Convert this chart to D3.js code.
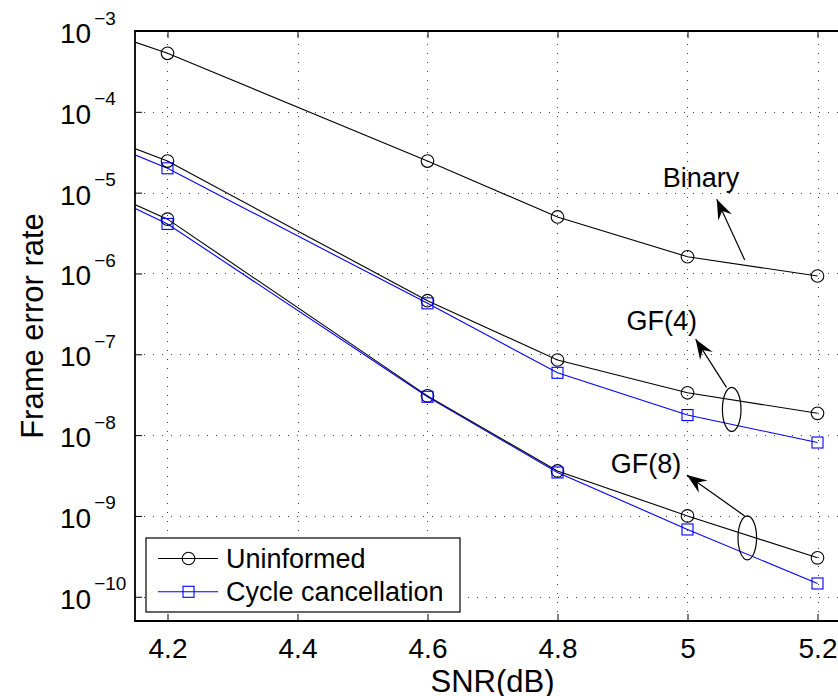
<!DOCTYPE html>
<html>
<head>
<meta charset="utf-8">
<script src="https://cdn.jsdelivr.net/npm/d3@7"></script>
<style>
  html, body { margin: 0; padding: 0; background: #fff; }
  svg { display: block; font-family: "Liberation Sans", Arial, Helvetica, sans-serif; }
</style>
</head>
<body>
<svg id="chart" width="838" height="696"></svg>
<script>
// SNR points (4.1 lies left of the visible window and only shapes the line entering from the edge)
const snr = [4.1, 4.2, 4.6, 4.8, 5.0, 5.2];

// Frame error rates per code / decoder
const binaryUninformed = [1.0e-3, 5.3e-4, 2.46e-5, 5.0e-6, 1.61e-6, 9.3e-7];
const gf4Uninformed    = [5.0e-5, 2.46e-5, 4.6e-7, 8.5e-8, 3.34e-8, 1.86e-8];
const gf4Cycle         = [4.3e-5, 2.0e-5, 4.27e-7, 5.9e-8, 1.77e-8, 8.1e-9];
const gf8Uninformed    = [1.07e-5, 4.7e-6, 3.06e-8, 3.6e-9, 1.0e-9, 3.03e-10];
const gf8Cycle         = [1.0e-5, 4.1e-6, 2.98e-8, 3.45e-9, 6.8e-10, 1.46e-10];

// Axis ticks
const xTicks = [4.2, 4.4, 4.6, 4.8, 5.0, 5.2];
const xTickLabels = ["4.2", "4.4", "4.6", "4.8", "5", "5.2"];
const yExponents = [-3, -4, -5, -6, -7, -8, -9, -10];

// Legend entries
const legendLabels = ["Uninformed", "Cycle cancellation"];

// Annotation texts, arrows and ellipses (data coordinates)
const annoLabels = ["Binary", "GF(4)", "GF(8)"];
const annoTextAt = [[4.962, 1.18e-5], [4.906, 2.0e-7], [4.882, 3.4e-9]];
const annoTip    = [[5.045, 8.3e-6], [5.0125, 1.54e-7], [4.999, 3.2e-9]];
const annoTail   = [[5.088, 1.47e-6], [5.060, 3.9e-8], [5.088, 1.0e-9]];
const annoEllipse = [null, [5.068, 2.08e-8], [5.092, 5.36e-10]];

const BLUE = "#0000ff";
const svg = d3.select("#chart");

const plot = { left: 135, right: 850, top: 31, bottom: 621 };
const x = d3.scaleLinear().domain([4.15, 5.25]).range([plot.left, plot.right]);
const y = d3.scaleLog().domain([Math.pow(10, -10.3), 1e-3]).range([plot.bottom, plot.top]);

svg.append("defs").append("clipPath").attr("id", "plot-clip")
  .append("rect")
  .attr("x", plot.left).attr("y", plot.top)
  .attr("width", plot.right - plot.left).attr("height", plot.bottom - plot.top);

// Dotted grid
const grid = svg.append("g").attr("stroke", "#3a3a3a").attr("stroke-width", 1)
  .attr("stroke-dasharray", "1,8").attr("fill", "none");
grid.selectAll("line.v").data(xTicks).join("line")
  .attr("x1", d => Math.round(x(d)) + 0.5).attr("x2", d => Math.round(x(d)) + 0.5)
  .attr("y1", plot.bottom).attr("y2", plot.top);
grid.selectAll("line.h").data(yExponents.slice(1)).join("line")
  .attr("y1", d => Math.round(y(Math.pow(10, d))) + 0.5)
  .attr("y2", d => Math.round(y(Math.pow(10, d))) + 0.5)
  .attr("x1", plot.left).attr("x2", plot.right);

// Series
const series = [
  { values: binaryUninformed, color: "#000", marker: "circle" },
  { values: gf4Uninformed, color: "#000", marker: "circle" },
  { values: gf4Cycle, color: BLUE, marker: "square" },
  { values: gf8Uninformed, color: "#000", marker: "circle" },
  { values: gf8Cycle, color: BLUE, marker: "square" }
];

const lineGen = d3.line().x((d, i) => x(snr[i])).y(d => y(d));
const data = svg.append("g").attr("clip-path", "url(#plot-clip)");

// draw blue first so black lines sit on top where they overlap
[...series].sort((a, b) => (a.color === BLUE ? -1 : 1) - (b.color === BLUE ? -1 : 1)).forEach(s => {
  data.append("path")
    .attr("d", lineGen(s.values))
    .attr("fill", "none").attr("stroke", s.color).attr("stroke-width", 1.1);
});
series.forEach(s => {
  const pts = s.values.map((v, i) => [x(snr[i]), y(v)]);
  if (s.marker === "circle") {
    data.selectAll(null).data(pts).join("circle")
      .attr("cx", d => d[0]).attr("cy", d => d[1]).attr("r", 6.3)
      .attr("fill", "none").attr("stroke", s.color).attr("stroke-width", 1.1);
  } else {
    data.selectAll(null).data(pts).join("rect")
      .attr("x", d => d[0] - 5.5).attr("y", d => d[1] - 5.5)
      .attr("width", 11).attr("height", 11)
      .attr("fill", "none").attr("stroke", s.color).attr("stroke-width", 1.1);
  }
});

// Axes
const xAxis = svg.append("g").attr("transform", `translate(0,${plot.bottom})`)
  .call(d3.axisBottom(x).tickValues(xTicks).tickSizeInner(-7).tickSizeOuter(0)
    .tickPadding(17).tickFormat((d, i) => xTickLabels[i]));
xAxis.select(".domain").remove();
xAxis.selectAll(".tick line").attr("stroke", "#000");
xAxis.selectAll(".tick text").attr("font-size", 28).attr("fill", "#000")
  .attr("font-family", "Liberation Sans, Arial, sans-serif");

const xAxisTop = svg.append("g").attr("transform", `translate(0,${plot.top})`)
  .call(d3.axisTop(x).tickValues(xTicks).tickSizeInner(-7).tickSizeOuter(0).tickFormat(""));
xAxisTop.select(".domain").remove();
xAxisTop.selectAll(".tick line").attr("stroke", "#000");

const yAxis = svg.append("g").attr("transform", `translate(${plot.left},0)`)
  .call(d3.axisLeft(y).tickValues(yExponents.map(e => Math.pow(10, e)))
    .tickSizeInner(-7).tickSizeOuter(0).tickFormat(""));
yAxis.select(".domain").remove();
yAxis.selectAll(".tick line").attr("stroke", "#000");
yAxis.selectAll(".tick text").each(function (d) {
  const e = Math.round(Math.log10(d));
  const t = d3.select(this)
    .attr("x", -75).attr("y", 11.5).attr("dy", null)
    .attr("text-anchor", "start").attr("fill", "#000")
    .attr("font-family", "Liberation Sans, Arial, sans-serif");
  t.append("tspan").attr("font-size", 28).text("10");
  t.append("tspan").attr("font-size", 19).attr("dx", 3).attr("dy", -18.5)
    .text("\u2212" + Math.abs(e));
});

// Axis box
svg.append("path")
  .attr("d", `M${plot.right},${plot.top}H${plot.left}V${plot.bottom}H${plot.right}`)
  .attr("fill", "none").attr("stroke", "#000").attr("stroke-width", 1.8);

// Axis titles
svg.append("text")
  .attr("x", (plot.left + plot.right) / 2).attr("y", 692)
  .attr("text-anchor", "middle").attr("font-size", 31).text("SNR(dB)");
svg.append("text")
  .attr("transform", `translate(43,${(plot.top + plot.bottom) / 2}) rotate(-90)`)
  .attr("text-anchor", "middle").attr("font-size", 31).text("Frame error rate");

// Annotations
function arrowHead(tx, ty, fx, fy) {
  const ang = Math.atan2(ty - fy, tx - fx);
  const len = 20, half = 7.5, notch = 13;
  const ux = Math.cos(ang), uy = Math.sin(ang);
  const px = -uy, py = ux;
  const bx = tx - ux * len, by = ty - uy * len;
  const nx = tx - ux * notch, ny = ty - uy * notch;
  return `M${tx},${ty}L${bx + px * half},${by + py * half}L${nx},${ny}L${bx - px * half},${by - py * half}Z`;
}
const anno = svg.append("g");
annoLabels.forEach((lab, i) => {
  anno.append("text")
    .attr("x", x(annoTextAt[i][0])).attr("y", y(annoTextAt[i][1]))
    .attr("font-size", 27).text(lab);
  const tx = x(annoTip[i][0]), ty = y(annoTip[i][1]);
  const fx = x(annoTail[i][0]), fy = y(annoTail[i][1]);
  anno.append("line")
    .attr("x1", fx).attr("y1", fy).attr("x2", tx).attr("y2", ty)
    .attr("stroke", "#000").attr("stroke-width", 1.2);
  anno.append("path").attr("d", arrowHead(tx, ty, fx, fy)).attr("fill", "#000");
  if (annoEllipse[i]) {
    anno.append("ellipse")
      .attr("cx", x(annoEllipse[i][0])).attr("cy", y(annoEllipse[i][1]))
      .attr("rx", 9.3).attr("ry", 22)
      .attr("fill", "none").attr("stroke", "#000").attr("stroke-width", 1.2);
  }
});

// Legend
const legend = svg.append("g");
legend.append("rect")
  .attr("x", 146).attr("y", 538).attr("width", 314).attr("height", 74)
  .attr("fill", "#fff").attr("stroke", "#000").attr("stroke-width", 1.2);
const legendStyles = [{ color: "#000", marker: "circle" }, { color: BLUE, marker: "square" }];
legendLabels.forEach((lab, i) => {
  const cy = 558.5 + i * 33.3;
  const g = legend.append("g");
  g.append("line").attr("x1", 158).attr("x2", 218).attr("y1", cy).attr("y2", cy)
    .attr("stroke", legendStyles[i].color).attr("stroke-width", 1.1);
  if (legendStyles[i].marker === "circle") {
    g.append("circle").attr("cx", 188.5).attr("cy", cy).attr("r", 6.3)
      .attr("fill", "none").attr("stroke", legendStyles[i].color).attr("stroke-width", 1.1);
  } else {
    g.append("rect").attr("x", 183).attr("y", cy - 5.5).attr("width", 11).attr("height", 11)
      .attr("fill", "none").attr("stroke", legendStyles[i].color).attr("stroke-width", 1.1);
  }
  g.append("text").attr("x", 226).attr("y", cy + 9.5).attr("font-size", 27).text(lab);
});
</script>
</body>
</html>
